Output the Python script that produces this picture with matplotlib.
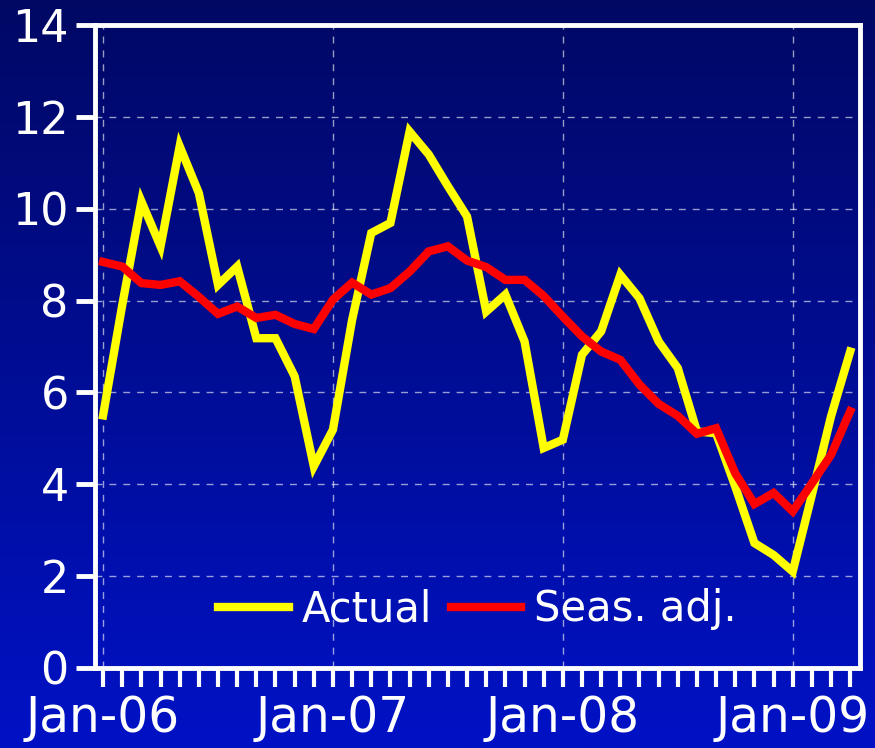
import numpy as np
import pandas as pd
import matplotlib
matplotlib.use('Agg')
import matplotlib.pyplot as plt
from matplotlib.colors import LinearSegmentedColormap

# monthly data, Jan-06 .. Apr-09
months = pd.date_range('2006-01-01', '2009-04-01', freq='MS')
actual = [5.5, 7.9, 10.16, 9.18, 11.36, 10.34, 8.34, 8.74, 7.18, 7.18, 6.35, 4.39,
          5.19, 7.58, 9.47, 9.69, 11.68, 11.18, 10.49, 9.83, 7.76, 8.13, 7.11, 4.79,
          4.97, 6.82, 7.33, 8.56, 8.05, 7.11, 6.53, 5.15, 5.11, 3.95, 2.72, 2.46,
          2.10, 3.77, 5.48, 6.89]
seas_adj = [8.84, 8.74, 8.38, 8.34, 8.42, 8.08, 7.71, 7.87, 7.62, 7.69, 7.49, 7.38,
            8.02, 8.39, 8.13, 8.27, 8.63, 9.07, 9.18, 8.87, 8.73, 8.45, 8.45, 8.10,
            7.65, 7.22, 6.89, 6.71, 6.17, 5.75, 5.49, 5.10, 5.22, 4.24, 3.57, 3.81,
            3.41, 4.02, 4.64, 5.59]
yticks = [0, 2, 4, 6, 8, 10, 12, 14]

fig = plt.figure(figsize=(8.75, 7.48), dpi=100)

# gradient background
bg = fig.add_axes([0, 0, 1, 1], zorder=-10)
cmap = LinearSegmentedColormap.from_list('bg', ['#000864', '#0012c6'])
bg.imshow(np.linspace(0, 1, 256).reshape(-1, 1), aspect='auto', cmap=cmap,
          extent=[0, 1, 0, 1])
bg.axis('off')

ax = fig.add_axes([0.1086, 0.107, 0.874, 0.8596])
ax.patch.set_alpha(0)

x = np.arange(len(months))
ax.plot(x, actual, color='#ffff00', lw=6, solid_joinstyle='miter', label='Actual', zorder=3)
ax.plot(x, seas_adj, color='#ff0000', lw=6, solid_joinstyle='miter', label='Seas. adj.', zorder=4)

ax.set_xlim(-0.42, 39.5)
ax.set_ylim(0, 14)
ax.set_yticks(yticks)

jan_idx = [i for i, m in enumerate(months) if m.month == 1]
ax.set_xticks(jan_idx)
ax.set_xticklabels([m.strftime('%b-%y') for m in months[jan_idx]])
ax.set_xticks(x, minor=True)

for s in ax.spines.values():
    s.set_color('white')
    s.set_linewidth(3.5)

ax.tick_params(axis='y', colors='white', labelsize=32, length=14, width=3.5, pad=5)
ax.tick_params(axis='x', which='both', colors='white', labelsize=35, length=14,
               width=3, pad=5, direction='out')

ax.grid(True, color='white', alpha=0.6, ls=(0, (5, 5)), lw=1)

leg = ax.legend(loc='lower center', ncol=2, frameon=False, fontsize=30,
                bbox_to_anchor=(0.5, 0.0), handlelength=1.7, columnspacing=0.45,
                handletextpad=0.3)
for t in leg.get_texts():
    t.set_color('white')

fig.savefig('out.png', dpi=100)
